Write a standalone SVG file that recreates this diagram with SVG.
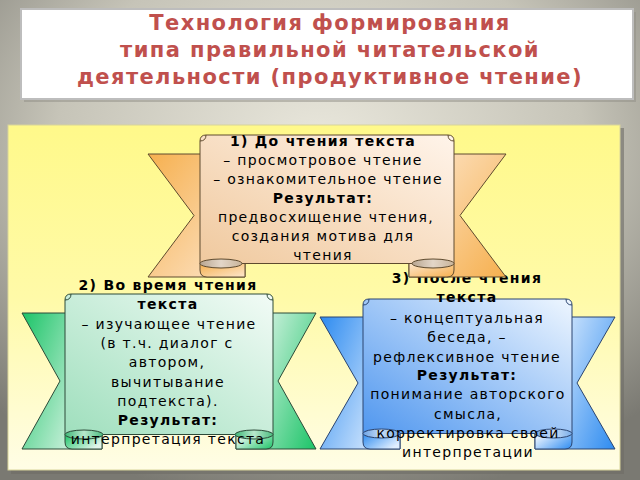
<svg xmlns="http://www.w3.org/2000/svg" width="640" height="480" viewBox="0 0 640 480">
<defs>
<radialGradient id="bg" cx="0.5" cy="0.3" r="0.75">
<stop offset="0" stop-color="#e9e7dc"/>
<stop offset="0.55" stop-color="#c6c4b8"/>
<stop offset="1" stop-color="#7a7972"/>
</radialGradient>
<linearGradient id="panel" x1="0" y1="0" x2="0" y2="1">
<stop offset="0" stop-color="#fff98a"/>
<stop offset="0.5" stop-color="#fffaa8"/>
<stop offset="1" stop-color="#fffde6"/>
</linearGradient>
<linearGradient id="oTailL" x1="0" y1="0" x2="1" y2="1"><stop offset="0" stop-color="#f6b04f"/><stop offset="1" stop-color="#fde6cc"/></linearGradient>
<linearGradient id="oTailR" x1="0" y1="0" x2="1" y2="1"><stop offset="0" stop-color="#fde6cc"/><stop offset="1" stop-color="#f6b04f"/></linearGradient>
<linearGradient id="oBand" x1="0" y1="1" x2="1" y2="0"><stop offset="0" stop-color="#f0c99e"/><stop offset="1" stop-color="#fff4ea"/></linearGradient>
<linearGradient id="oEll" x1="0" y1="0" x2="1" y2="0"><stop offset="0" stop-color="#b8a590"/><stop offset="0.5" stop-color="#e3d6c8"/><stop offset="1" stop-color="#c8b49a"/></linearGradient>
<linearGradient id="gTailL" x1="0" y1="0" x2="1" y2="0.6"><stop offset="0" stop-color="#1cc468"/><stop offset="1" stop-color="#e2f6eb"/></linearGradient>
<linearGradient id="gTailR" x1="0" y1="0.4" x2="1" y2="1"><stop offset="0" stop-color="#e2f6eb"/><stop offset="1" stop-color="#1cc468"/></linearGradient>
<linearGradient id="gBand" x1="0" y1="1" x2="1" y2="0"><stop offset="0" stop-color="#9fdfbd"/><stop offset="1" stop-color="#f2fbf6"/></linearGradient>
<linearGradient id="gEll" x1="0" y1="0" x2="1" y2="0"><stop offset="0" stop-color="#3fb878"/><stop offset="0.5" stop-color="#b8e8cc"/><stop offset="1" stop-color="#4cbd80"/></linearGradient>
<linearGradient id="bTailL" x1="0" y1="0" x2="1" y2="0.6"><stop offset="0" stop-color="#2d8bf0"/><stop offset="1" stop-color="#e0eefe"/></linearGradient>
<linearGradient id="bTailR" x1="0" y1="0.4" x2="1" y2="1"><stop offset="0" stop-color="#e0eefe"/><stop offset="1" stop-color="#2d8bf0"/></linearGradient>
<linearGradient id="bBand" x1="0" y1="1" x2="1" y2="0"><stop offset="0" stop-color="#5097ef"/><stop offset="1" stop-color="#eef6ff"/></linearGradient>
<linearGradient id="bEll" x1="0" y1="0" x2="1" y2="0"><stop offset="0" stop-color="#6ea4e6"/><stop offset="0.5" stop-color="#c8def6"/><stop offset="1" stop-color="#7aaeea"/></linearGradient>
</defs>
<style>
.o{stroke:#5e4a2e;stroke-width:1}
.g{stroke:#2c4a38;stroke-width:1}
.b{stroke:#2a4470;stroke-width:1}
.t{font-family:"DejaVu Sans","Liberation Sans",sans-serif;font-size:14px;letter-spacing:1.3px;fill:#000;text-anchor:middle}
.bd{font-weight:bold}
.title{font-family:"DejaVu Sans","Liberation Sans",sans-serif;font-size:21px;letter-spacing:1.4px;font-weight:bold;fill:#c0504d;text-anchor:middle}
</style>
<rect x="0" y="0" width="640" height="480" fill="url(#bg)"/>
<g id="title">
<rect x="24" y="12" width="612" height="90" fill="#8f8e86" opacity="0.5"/>
<rect x="21" y="9" width="612" height="90" fill="#ffffff" stroke="#bdbdbd" stroke-width="2"/>
<text class="title" x="330" y="30">Технология формирования</text>
<text class="title" x="330" y="57">типа правильной читательской</text>
<text class="title" x="330" y="84">деятельности (продуктивное чтение)</text>
</g>
<g id="panel">
<rect x="11" y="128" width="613" height="346" fill="#6e6d66" opacity="0.6"/>
<rect x="8" y="125" width="612" height="345" fill="url(#panel)" stroke="#d8d49a" stroke-width="1"/>
</g>
<g id="connectors"/>
<g id="node3">
<path class="b" d="M320,317 H400 V449 H320 L358,383 Z" fill="url(#bTailL)"/>
<path class="b" d="M615,317 H535 V449 H615 L577,383 Z" fill="url(#bTailR)"/>
<path class="b" d="M363,433.5 V442 Q363,449 370,449 H400 V433.5 Z" fill="url(#bTailL)"/>
<path class="b" d="M572,433.5 V442 Q572,449 565,449 H535 V433.5 Z" fill="url(#bTailR)"/>
<path class="b" d="M363,433.5 V305 Q363,299 369,299 H566 Q572,299 572,305 V433.5 Z" fill="url(#bBand)"/>
<path class="b" d="M369,299 Q369,305 363,305 M566,299 Q566,305 572,305" fill="none"/>
<ellipse class="b" cx="381.5" cy="433.5" rx="18.5" ry="4.5" fill="url(#bEll)"/>
<ellipse class="b" cx="553.5" cy="433.5" rx="18.5" ry="4.5" fill="url(#bEll)"/>
<text class="t bd" x="467" y="283">3) После чтения</text>
<text class="t bd" x="467" y="302">текста</text>
<text class="t" x="467" y="323">– концептуальная</text>
<text class="t" x="467" y="342">беседа, –</text>
<text class="t" x="467" y="362">рефлексивное чтение</text>
<text class="t bd" x="467" y="380">Результат:</text>
<text class="t" x="468" y="399">понимание авторского</text>
<text class="t" x="468" y="419">смысла,</text>
<text class="t" x="468" y="438">корректировка своей</text>
<text class="t" x="468" y="457">интерпретации</text>
</g>
<g id="node2">
<path class="g" d="M22,313 H102 V449 H22 L60,381 Z" fill="url(#gTailL)"/>
<path class="g" d="M316,313 H236 V449 H316 L278,381 Z" fill="url(#gTailR)"/>
<path class="g" d="M65,434.5 V442 Q65,449 72,449 H102 V434.5 Z" fill="url(#gTailL)"/>
<path class="g" d="M273,434.5 V442 Q273,449 266,449 H236 V434.5 Z" fill="url(#gTailR)"/>
<path class="g" d="M65,434.5 V300 Q65,294 71,294 H267 Q273,294 273,300 V434.5 Z" fill="url(#gBand)"/>
<path class="g" d="M71,294 Q71,300 65,300 M267,294 Q267,300 273,300" fill="none"/>
<ellipse class="g" cx="84" cy="434.5" rx="19" ry="4.5" fill="url(#gEll)"/>
<ellipse class="g" cx="254" cy="434.5" rx="19" ry="4.5" fill="url(#gEll)"/>
<text class="t bd" x="168" y="290">2) Во время чтения</text>
<text class="t bd" x="168" y="309">текста</text>
<text class="t" x="169" y="329">– изучающее чтение</text>
<text class="t" x="167" y="348">(в т.ч. диалог с</text>
<text class="t" x="167" y="367">автором,</text>
<text class="t" x="168" y="387">вычитывание</text>
<text class="t" x="168" y="406">подтекста).</text>
<text class="t bd" x="168" y="425">Результат:</text>
<text class="t" x="168" y="444">интерпретация текста</text>
</g>
<g id="node1">
<path class="o" d="M148,154 H245 V277 H148 L194,215.5 Z" fill="url(#oTailL)"/>
<path class="o" d="M506,154 H409 V277 H506 L460,215.5 Z" fill="url(#oTailR)"/>
<path class="o" d="M200,263.5 V270 Q200,277 207,277 H245 V263.5 Z" fill="url(#oTailL)"/>
<path class="o" d="M454,263.5 V270 Q454,277 447,277 H409 V263.5 Z" fill="url(#oTailR)"/>
<path class="o" d="M200,263.5 V141 Q200,135 206,135 H448 Q454,135 454,141 V263.5 Z" fill="url(#oBand)"/>
<path class="o" d="M206,135 Q206,141 200,141 M448,135 Q448,141 454,141" fill="none"/>
<ellipse class="o" cx="221" cy="263.5" rx="21" ry="4.5" fill="url(#oEll)"/>
<ellipse class="o" cx="433" cy="263.5" rx="21" ry="4.5" fill="url(#oEll)"/>
<text class="t bd" x="323" y="146">1) До чтения текста</text>
<text class="t" x="323" y="165">– просмотровое чтение</text>
<text class="t" x="328" y="184">– ознакомительное чтение</text>
<text class="t bd" x="323" y="203">Результат:</text>
<text class="t" x="326" y="222">предвосхищение чтения,</text>
<text class="t" x="323" y="241">создания мотива для</text>
<text class="t" x="323" y="260">чтения</text>
</g>
</svg>
